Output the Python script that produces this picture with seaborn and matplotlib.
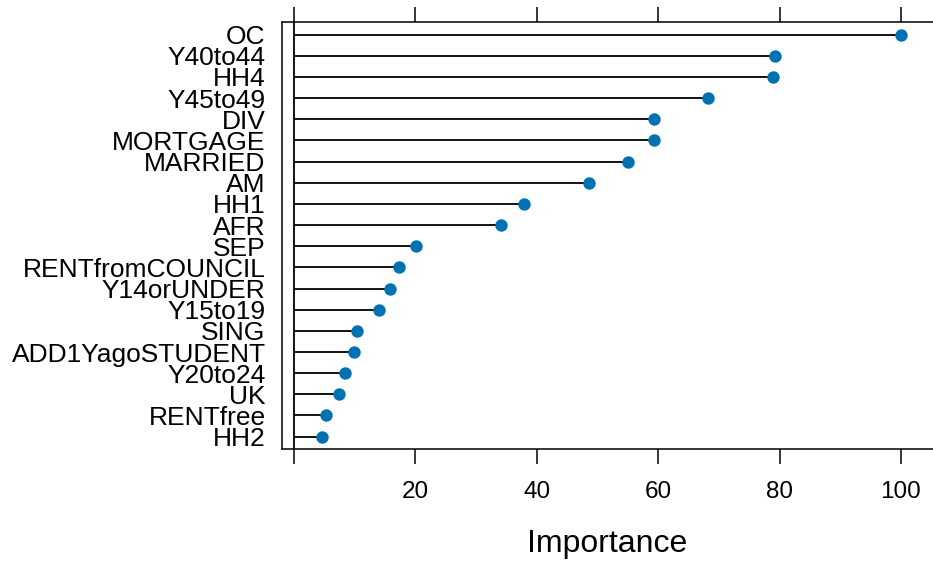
import pandas as pd
import matplotlib.pyplot as plt
import seaborn as sns

# variable importance (top to bottom)
features = ['OC', 'Y40to44', 'HH4', 'Y45to49', 'DIV', 'MORTGAGE', 'MARRIED', 'AM',
            'HH1', 'AFR', 'SEP', 'RENTfromCOUNCIL', 'Y14orUNDER', 'Y15to19', 'SING',
            'ADD1YagoSTUDENT', 'Y20to24', 'UK', 'RENTfree', 'HH2']
importance = [100, 79.2, 79.0, 68.3, 59.4, 59.4, 55.1, 48.6,
              37.9, 34.2, 20.1, 17.4, 15.9, 14.0, 10.5,
              9.9, 8.4, 7.4, 5.3, 4.7]
x_ticks = [20, 40, 60, 80, 100]

df = pd.DataFrame({'feature': features, 'importance': importance})

sns.set_style('white')
plt.rcParams['font.family'] = ['Liberation Sans', 'DejaVu Sans']
plt.rcParams['text.color'] = 'black'
plt.rcParams['axes.labelcolor'] = 'black'

fig = plt.figure(figsize=(9.33, 5.61), dpi=100)
ax = fig.add_axes([0.3019, 0.1996, 0.6981, 0.7607])

# stems from zero, then the dots
ax.hlines(y=df['feature'], xmin=0, xmax=df['importance'], color='black', lw=1.3, zorder=2)
ax.axvline(0, color='black', lw=1.3, zorder=2)
sns.scatterplot(data=df, x='importance', y='feature', ax=ax, color='#0072B2',
                s=80, linewidth=0, zorder=3)

ax.set_xlim(-1.98, 105.27)
ax.set_ylim(len(features) - 1 + 0.585, -0.585)

ax.set_xticks([0] + x_ticks)
ax.set_xticklabels([''] + [str(t) for t in x_ticks])
ax.tick_params(axis='x', which='both', top=True, bottom=True, direction='out',
               length=11, width=1.1, labelsize=17.5, pad=12, colors='black')
ax.tick_params(axis='y', length=0, pad=11.5, labelsize=19, colors='black')

for side in ['left', 'top', 'bottom']:
    ax.spines[side].set_color('black')
    ax.spines[side].set_linewidth(1.1)
ax.spines['right'].set_visible(False)

ax.set_xlabel('Importance', fontsize=23, labelpad=19, color='black')
ax.set_ylabel('')

fig.savefig('out.png', dpi=100)
